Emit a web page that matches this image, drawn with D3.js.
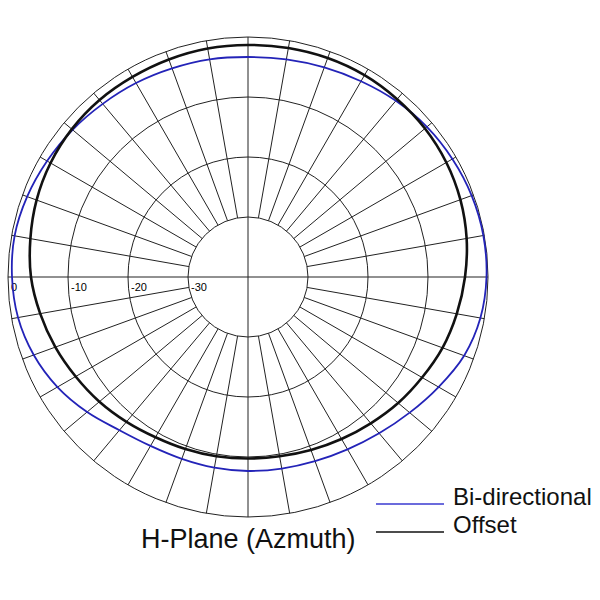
<!DOCTYPE html>
<html>
<head>
<meta charset="utf-8">
<script src="https://cdn.jsdelivr.net/npm/d3@7"></script>
<style>
html,body{margin:0;padding:0;background:#fff;}
svg{display:block;}
</style>
</head>
<body>
<svg id="chart" width="600" height="600"></svg>
<script>
// angles in degrees, clockwise from top
const angles = [0,10,20,30,40,50,60,70,80,90,100,110,120,130,140,150,160,170,180,190,200,210,220,230,240,250,260,270,280,290,300,310,320,330,340,350];
// Offset (black) pattern in dB
const offsetDb = [-1.33,-1.25,-1.17,-1.17,-1.33,-1.5,-1.83,-2.33,-3.0,-3.83,-4.67,-5.5,-6.5,-7.33,-8.17,-8.83,-9.33,-9.67,-9.75,-9.67,-9.5,-9.17,-8.5,-7.67,-6.83,-5.83,-4.83,-3.83,-3.17,-2.5,-2.0,-1.67,-1.5,-1.5,-1.42,-1.33];
// Bi-directional (blue) pattern in dB
const bidirDb = [-3.33,-3.17,-2.83,-2.33,-1.67,-1.08,-0.67,-0.33,-0.17,-0.25,-0.67,-1.67,-3.33,-4.83,-6.0,-6.83,-7.33,-7.58,-7.67,-7.75,-7.75,-7.5,-6.67,-5.0,-3.33,-2.0,-1.08,-0.67,-0.5,-0.83,-1.33,-1.83,-2.33,-2.67,-3.0,-3.17];
const ringTicks = [0,-10,-20,-30];
const ringLabels = ["0","-10","-20","-30"];
const spokeAngles = d3.range(0,360,10);
const seriesNames = ["Bi-directional","Offset"];
const seriesColors = ["#2323b8","#111111"];
const title = "H-Plane (Azmuth)";

const svg = d3.select("#chart");
const cx = 248, cy = 277, R = 240;
const r = d3.scaleLinear().domain([-40,0]).range([0,R]);
const g = svg.append("g").attr("transform",`translate(${cx},${cy})`);

// rings
g.selectAll("circle.ring").data(ringTicks).join("circle")
  .attr("r", d=>r(d)).attr("fill","none").attr("stroke","#222").attr("stroke-width",1);

// spokes: axes go through the center, others start at the inner ring
const rad = d => d*Math.PI/180;
g.selectAll("line.spoke").data(spokeAngles).join("line")
  .attr("x1", d => d%90===0 ? 0 : r(-30)*Math.sin(rad(d)))
  .attr("y1", d => d%90===0 ? 0 : -r(-30)*Math.cos(rad(d)))
  .attr("x2", d => R*Math.sin(rad(d)))
  .attr("y2", d => -R*Math.cos(rad(d)))
  .attr("stroke","#222").attr("stroke-width",1);

// ring labels
g.selectAll("text.rl").data(ringTicks).join("text")
  .attr("x", d => -r(d)+3).attr("y", 14)
  .attr("font-family","Liberation Sans, Arial, sans-serif").attr("font-size",11)
  .attr("fill","#000")
  .text((d,i)=>ringLabels[i]);

const line = d3.lineRadial()
  .angle(d => rad(d[0]))
  .radius(d => r(d[1]))
  .curve(d3.curveCatmullRomClosed.alpha(0.5));

g.append("path").datum(angles.map((a,i)=>[a,bidirDb[i]]))
  .attr("d", line).attr("fill","none").attr("stroke",seriesColors[0]).attr("stroke-width",1.8);
g.append("path").datum(angles.map((a,i)=>[a,offsetDb[i]]))
  .attr("d", line).attr("fill","none").attr("stroke",seriesColors[1]).attr("stroke-width",2.6);

// legend
const leg = svg.append("g");
const legY = [504, 532];
seriesNames.forEach((n,i)=>{
  leg.append("line").attr("x1",376).attr("x2",444).attr("y1",legY[i]).attr("y2",legY[i])
    .attr("stroke", i===0 ? "#3a3ad0" : "#111").attr("stroke-width",1.3);
  leg.append("text").attr("x",453).attr("y",legY[i]+1)
    .attr("font-family","Liberation Sans, Arial, sans-serif").attr("font-size",24)
    .attr("fill","#111").text(n);
});

svg.append("text").attr("x",141).attr("y",548)
  .attr("font-family","Liberation Sans, Arial, sans-serif").attr("font-size",27)
  .attr("fill","#111").text(title);
</script>
</body>
</html>
